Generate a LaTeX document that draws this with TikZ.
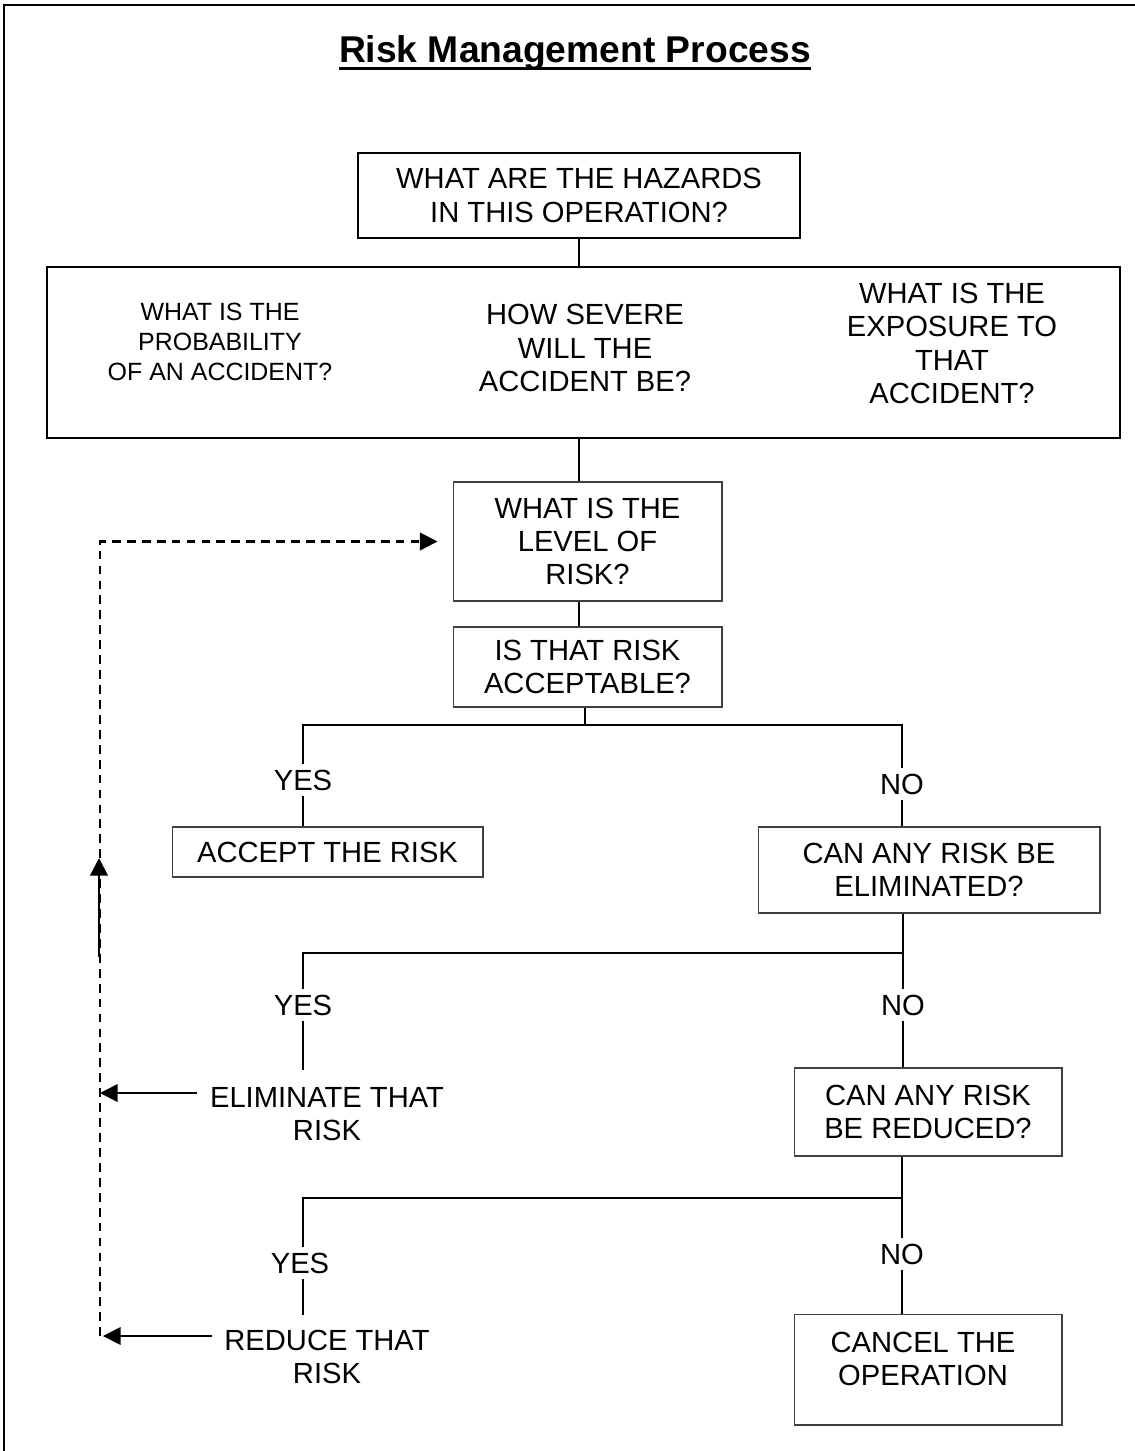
\documentclass[tikz,border=0pt]{standalone}
\usepackage{fontspec}
\setmainfont{Liberation Sans}
\usetikzlibrary{arrows.meta}
\newcommand\mytitleul[1]{\setbox0=\hbox{#1}\rlap{\rule[-4.4pt]{\wd0}{1.8pt}}\box0}
\begin{document}
\begin{tikzpicture}[x=0.02cm,y=-0.02cm,
  txt/.style={font=\fontsize{16.6}{19}\selectfont, align=center, inner sep=0pt},
  smalltxt/.style={font=\fontsize{14.2}{17}\selectfont, align=center, inner sep=0pt},
  box/.style={draw=black!75, line width=0.6pt, txt},
  bigbox/.style={draw=black, line width=1.1pt, txt},
  lbl/.style={txt, inner xsep=1pt, inner ysep=3pt},
  conn/.style={line width=0.85pt},
  tip/.style={-{Triangle[length=10pt,width=10pt]}},
  dsh/.style={line width=1.2pt, dash pattern=on 5pt off 3.5pt},
  ]
\useasboundingbox (0,0) rectangle (1135,1451);
\draw[line width=1.6pt] (4,1460) -- (4,5) -- (1145,5);

% title
\node[anchor=base, font=\bfseries\fontsize{21.2}{25}\selectfont, inner sep=0pt] (title) at (575,62) {\mytitleul{Risk Management Process}};

% boxes
\node[bigbox, minimum width=8.84cm, minimum height=1.7cm] (haz) at (579,195.5) {WHAT ARE THE HAZARDS\\IN THIS OPERATION?};
\node[bigbox, minimum width=21.46cm, minimum height=3.42cm] (big) at (583.5,352.5) {};
\node[smalltxt] (prob) at (220,342) {WHAT IS THE\\PROBABILITY\\OF AN ACCIDENT?};
\node[txt] (sev) at (585,348) {HOW SEVERE\\WILL THE\\ACCIDENT BE?};
\node[txt] (expo) at (952,343.5) {WHAT IS THE\\EXPOSURE TO\\THAT\\ACCIDENT?};
\node[box, minimum width=5.38cm, minimum height=2.38cm] (level) at (587.5,541.5) {WHAT IS THE\\LEVEL OF\\RISK?};
\node[box, minimum width=5.38cm, minimum height=1.6cm] (acc) at (587.5,667) {IS THAT RISK\\ACCEPTABLE?};
\node[box, minimum width=6.22cm, minimum height=1.0cm] (accept) at (327.5,852) {ACCEPT THE RISK};
\node[box, minimum width=6.84cm, minimum height=1.72cm] (elim) at (929,870) {CAN ANY RISK BE\\ELIMINATED?};
\node[box, minimum width=5.36cm, minimum height=1.76cm] (red) at (928,1112) {CAN ANY RISK\\BE REDUCED?};
\node[box, minimum width=5.36cm, minimum height=2.22cm] (cancel) at (928,1369.5) {};
\node[txt] (canceltxt) at (923,1359) {CANCEL THE\\OPERATION};

% labels
\node[lbl] (yes1) at (303,780) {YES};
\node[lbl] (no1) at (902,784) {NO};
\node[lbl] (yes2) at (303,1005) {YES};
\node[lbl] (no2) at (903,1005) {NO};
\node[lbl] (yes3) at (300,1263) {YES};
\node[lbl] (no3) at (902,1254) {NO};
\node[txt] (elimtxt) at (327,1114) {ELIMINATE THAT\\RISK};
\node[txt] (redtxt) at (327,1357) {REDUCE THAT\\RISK};

% junctions
\coordinate (j1l) at (303,725); \coordinate (j1r) at (902,725);
\coordinate (j2l) at (303,953); \coordinate (j2r) at (903,953);
\coordinate (j3l) at (303,1198); \coordinate (j3r) at (902,1198);
\coordinate (e2) at (303,1070);
\coordinate (e3) at (303,1315);
\coordinate (dbot) at (100,1336);
\coordinate (ea) at (197,1093);
\coordinate (ra) at (212,1336);
\coordinate (ub) at (99,957);
\coordinate (ut) at (99,858);

% connectors
\draw[conn] (haz.south) -- (haz.south |- big.north);
\draw[conn] (big.south -| haz.south) -- (level.north -| haz.south);
\draw[conn] (level.south -| haz.south) -- (acc.north -| haz.south);
\draw[conn] (acc.south -| 585,0) -- (j1l -| 585,0);
\draw[conn] (yes1.north) -- (j1l) -- (j1r) -- (no1.north);
\draw[conn] (yes1.south) -- (yes1.south |- accept.north);
\draw[conn] (no1.south) -- (no1.south |- elim.north);
\draw[conn] (elim.south -| j2r) -- (j2r) -- (no2.north);
\draw[conn] (j2r) -- (j2l) -- (yes2.north);
\draw[conn] (yes2.south) -- (e2);
\draw[conn] (no2.south) -- (no2.south |- red.north);
\draw[conn] (red.south -| j3r) -- (j3r) -- (no3.north);
\draw[conn] (j3r) -- (j3l) -- (j3l |- yes3.north);
\draw[conn] (j3l |- yes3.south) -- (e3);
\draw[conn] (no3.south) -- (no3.south |- cancel.north);

% feedback loop
\draw[dsh, tip, shorten >=0.3cm] (dbot) -- (dbot |- level.west) -- (level.west);
\draw[conn, line width=1pt, tip] (ea) -- (ea -| dbot);
\draw[conn, line width=1pt, tip, shorten >=0.06cm] (ra) -- (dbot);
\draw[line width=1.2pt, tip] (ub) -- (ut);
\end{tikzpicture}
\end{document}
